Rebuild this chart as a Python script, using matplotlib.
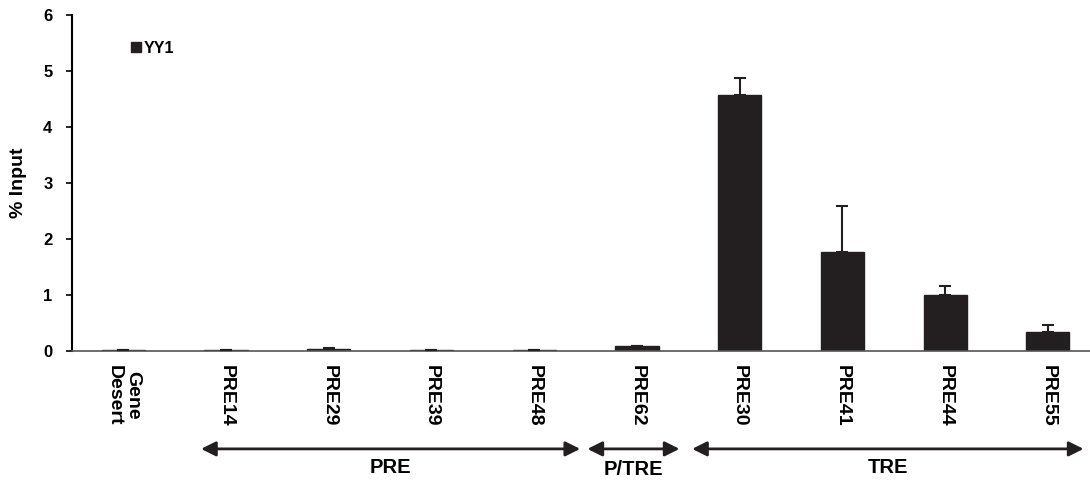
import matplotlib.pyplot as plt
import matplotlib.transforms as mtransforms
import numpy as np

plt.rcParams['font.family'] = ['Liberation Sans', 'DejaVu Sans']
plt.rcParams['font.weight'] = 'bold'

# data
sites = ['Gene\nDesert', 'PRE14', 'PRE29', 'PRE39', 'PRE48',
         'PRE62', 'PRE30', 'PRE41', 'PRE44', 'PRE55']
yy1 = [0.02, 0.02, 0.025, 0.02, 0.02, 0.08, 4.57, 1.77, 0.99, 0.345]
yy1_err = [0.0, 0.0, 0.03, 0.0, 0.0, 0.01, 0.31, 0.81, 0.16, 0.12]

# element groups: (label, start, end) in category units
groups = [('PRE', 0.757, 4.447), ('P/TRE', 4.518, 5.414), ('TRE', 5.537, 9.347)]
group_label_y = [-0.348, -0.354, -0.348]

fig = plt.figure(figsize=(10.9, 4.8), dpi=100)
ax = fig.add_axes([0.066, 0.269, 0.934, 0.70])

x = np.arange(len(sites))
ax.bar(x, yy1, width=0.42, color='#231f20', edgecolor='#231f20',
       label='YY1', zorder=2)
ax.errorbar(x, yy1, yerr=[np.zeros(len(yy1)), yy1_err], fmt='none',
            ecolor='#231f20', elinewidth=1.5, capsize=4.5, capthick=1.5,
            zorder=3)

ax.set_xlim(-0.5, 9.41)
ax.set_ylim(0, 6)
ax.set_yticks(range(7))
ax.tick_params(axis='y', labelsize=12, length=4.5, width=1.2, pad=9.5)
ax.set_xticks(x)
ax.set_xticklabels(sites, rotation=270, fontsize=14, fontweight='bold',
                   va='top', ha='center', linespacing=1.15)
ax.tick_params(axis='x', length=0, pad=10)
ax.set_ylabel('% Input', fontsize=14, fontweight='bold', labelpad=12)

for s in ['top', 'right']:
    ax.spines[s].set_visible(False)
ax.spines['left'].set_linewidth(1.5)
ax.spines['bottom'].set_linewidth(1.2)
ax.spines['bottom'].set_color('#555555')

ax.legend(loc='upper left', bbox_to_anchor=(0.05, 0.947), frameon=False,
          handlelength=0.65, handleheight=0.65, handletextpad=0.15,
          borderpad=0, prop={'size': 11.5, 'weight': 'bold'})

# group arrows below the labels
trans = mtransforms.blended_transform_factory(ax.transData, ax.transAxes)
for (name, x0, x1), ly in zip(groups, group_label_y):
    ax.annotate('', xy=(x0, -0.2917), xytext=(x1, -0.2917),
                xycoords=trans, textcoords=trans, annotation_clip=False,
                arrowprops=dict(arrowstyle='<|-|>', color='#231f20', lw=2,
                                mutation_scale=22, shrinkA=0, shrinkB=0))
    ax.text((x0 + x1) / 2, ly, name, transform=trans, ha='center',
            va='center', fontsize=14.5, fontweight='bold')

fig.savefig('out.png', dpi=100)
